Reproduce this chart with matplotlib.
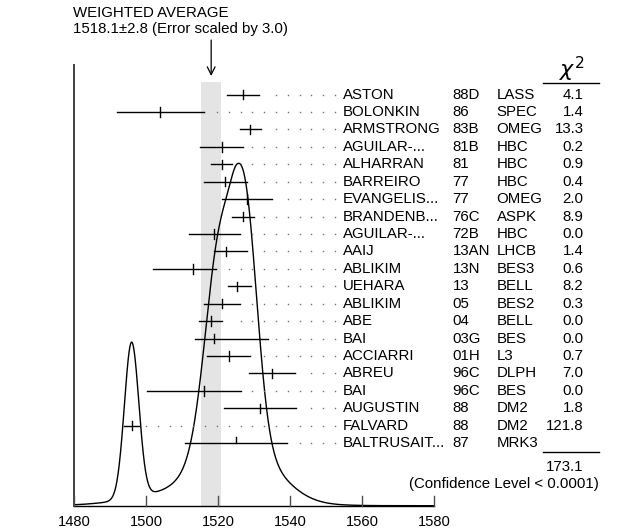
import numpy as np
import matplotlib.pyplot as plt

plt.rcParams['font.family'] = ['Liberation Sans', 'DejaVu Sans']

# measurements (top to bottom)
authors = ["ASTON", "BOLONKIN", "ARMSTRONG", "AGUILAR-...", "ALHARRAN", "BARREIRO",
           "EVANGELIS...", "BRANDENB...", "AGUILAR-...", "AAIJ", "ABLIKIM", "UEHARA",
           "ABLIKIM", "ABE", "BAI", "ACCIARRI", "ABREU", "BAI", "AUGUSTIN", "FALVARD",
           "BALTRUSAIT..."]
years = ["88D", "86", "83B", "81B", "81", "77", "77", "76C", "72B", "13AN", "13N", "13",
         "05", "04", "03G", "01H", "96C", "96C", "88", "88", "87"]
experiments = ["LASS", "SPEC", "OMEG", "HBC", "HBC", "HBC", "OMEG", "ASPK", "HBC", "LHCB",
               "BES3", "BELL", "BES2", "BELL", "BES", "L3", "DLPH", "BES", "DM2", "DM2", "MRK3"]
chi2 = ["4.1", "1.4", "13.3", "0.2", "0.9", "0.4", "2.0", "8.9", "0.0", "1.4", "0.6", "8.2",
        "0.3", "0.0", "0.0", "0.7", "7.0", "0.0", "1.8", "121.8", ""]
values = [1527, 1504, 1529, 1521, 1521, 1522, 1528, 1527, 1519, 1522.2, 1513, 1525.3,
          1521, 1518, 1519, 1523, 1535, 1516, 1531.6, 1496, 1525]
err_lo = [4.4, 12, 3, 6, 3, 6, 7, 3, 7, 3.3, 11, 2.5, 5, 3.2, 5.3, 6, 6.4, 15.7, 10, 2, 14.1]
err_hi = [4.4, 12, 3, 6, 3, 6, 7, 3, 7, 5.8, 6.5, 3.8, 5, 3.2, 15, 6, 6.4, 10.4, 10, 2, 14.1]
used = [True] * 20 + [False]

avg, avg_err, scale = 1518.1, 2.8, 3.0
chi2_total = "173.1"
xticks = [1480, 1500, 1520, 1540, 1560, 1580]

# layout: x in data units, y in pixels from the top
px_per_unit = 3.6
x0_px = 74
W, H = 635, 529
fig = plt.figure(figsize=(W / 100, H / 100), dpi=100)
ax = fig.add_axes([0, 0, 1, 1])
ax.set_xlim(1480 - x0_px / px_per_unit, 1480 + (W - x0_px) / px_per_unit)
ax.set_ylim(H, 0)
ax.axis('off')

def xc(p):
    return 1480 + (p - x0_px) / px_per_unit

fs = 10.8
base = 505.7
row0, dy = 94.6, 17.43
rows = [row0 + i * dy for i in range(len(values))]

# band for weighted average
ax.fill_between([avg - avg_err, avg + avg_err], 81.7, base, color='#e4e4e4', lw=0, zorder=0)

# ideogram curve (gaussian per measurement, area ~ 1/sigma)
xs = np.linspace(1480, 1580, 2000)
curve = np.zeros_like(xs)
for v, lo, hi, u in zip(values, err_lo, err_hi, used):
    if not u:
        continue
    s = np.where(xs < v, lo, hi)
    curve += np.exp(-0.5 * ((xs - v) / s) ** 2) / ((lo + hi) / 2) ** 2
curve = curve / curve.max() * 342.4
ax.plot(xs, base - curve, color='black', lw=1.0, zorder=3)

# axis lines and ticks
ax.plot([1480, 1480], [65, base], color='0.25', lw=1.4, zorder=4)
ax.plot([1480, 1580], [base, base], color='black', lw=1.0, zorder=4)
for t in xticks:
    ax.plot([t, t], [base, base - 10], color='0.3', lw=1.0, zorder=4)
    ax.text(t, 522, str(t), ha='center', va='center', fontsize=10.6)

# error bars, dotted leaders and labels
dot_grid = [1552.5 - 3.28 * k for k in range(30)]
for i, y in enumerate(rows):
    v, lo, hi = values[i], err_lo[i], err_hi[i]
    ax.plot([v - lo, v + hi], [y, y], color='black', lw=1.0, zorder=5)
    if used[i]:
        ax.plot([v, v], [y - 4.7, y + 4.7], color='black', lw=1.0, zorder=5)
    else:
        ax.plot([v, v], [y - 6.5, y], color='black', lw=1.0, zorder=5)
    dots = [d for d in dot_grid if d > v + hi + 2]
    ax.plot(dots, [y] * len(dots), ls='none', marker='s', ms=1.0, mew=0,
            color='0.45', zorder=5)
    ax.text(xc(343), y, authors[i], ha='left', va='center', fontsize=fs)
    ax.text(xc(452.7), y, years[i], ha='left', va='center', fontsize=fs)
    ax.text(xc(496.7), y, experiments[i], ha='left', va='center', fontsize=fs)
    ax.text(xc(583.5), y, chi2[i], ha='right', va='center', fontsize=fs)

# chi2 column header and total
ax.text(xc(571.5), 69, r'$\chi^2$', ha='center', va='center', fontsize=16)
ax.plot([xc(543.3), xc(599.3)], [83, 83], color='black', lw=1.0)
ax.plot([xc(543.3), xc(599.3)], [451.7, 451.7], color='black', lw=1.0)
ax.text(xc(583.5), 466.7, chi2_total, ha='right', va='center', fontsize=fs)
ax.text(xc(598.5), 484.3, "(Confidence Level < 0.0001)", ha='right', va='center', fontsize=fs)

# weighted average title and arrow
ax.text(xc(73.3), 13, "WEIGHTED AVERAGE", ha='left', va='center', fontsize=fs)
ax.text(xc(73.3), 28.5, f"{avg}\u00b1{avg_err} (Error scaled by {scale})", ha='left',
        va='center', fontsize=fs)
ax.annotate('', xy=(avg, 76), xytext=(avg, 40),
            arrowprops=dict(arrowstyle='->', color='black', lw=0.9,
                            shrinkA=0, shrinkB=0, mutation_scale=14))

fig.savefig('out.png', dpi=100)
